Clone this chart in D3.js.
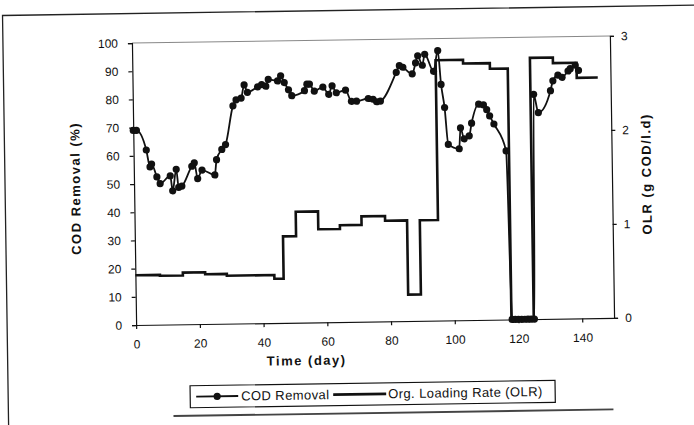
<!DOCTYPE html>
<html>
<head>
<meta charset="utf-8">
<script src="https://cdn.jsdelivr.net/npm/d3@7"></script>
<style>
  body { margin: 0; background: #fff; }
  svg { display: block; font-family: "Liberation Sans", Arial, sans-serif; }
  .axis text { font-size: 12px; fill: #111; }
  .axis path, .axis line { stroke: #111; stroke-width: 1.2; }
  .axis-title { font-size: 13px; font-weight: bold; fill: #111; letter-spacing: 1.5px; }
  .legend text { font-size: 13px; fill: #111; letter-spacing: 0.4px; }
</style>
</head>
<body>
<svg id="chart" width="694" height="425"></svg>
<script>
// values
const codDay = [0, 1, 4, 5.1, 5.6, 7.2, 8.2, 11.4, 12.1, 13.3, 14, 15, 18.2, 19, 20, 21.4, 25.4, 26, 27.7, 28.9,
  31.4, 32.4, 34, 35, 36, 39.2, 40.5, 41.8, 42.6, 45.5, 46.5, 47.6, 48.9, 49.9, 53.9, 54.7, 55.5, 57, 59.7,
  61.5, 62.6, 63.9, 66.8, 68.6, 70.2, 73.9, 75.4, 76.5, 77.7, 82.8, 83.8, 84.9, 87.8, 88.9, 89.6, 91, 91.8, 94.5,
  95.9, 96.8, 97.8, 98.8, 102.2, 102.7, 103.8, 105.4, 106.2, 108.5, 110, 111, 111.9, 113.2, 116.9,
  118, 119, 120, 121, 122, 123, 124, 125,
  125.8, 127.2, 131.1, 131.9, 133.5, 134.8, 136.7, 137.4, 139, 140];
const codRemoval = [69, 69, 62, 56, 57, 52.4, 50, 52.7, 47.4, 55, 48.6, 49, 56, 57.2, 51.6, 54.6, 52.8, 58.2, 61.8, 63.5,
  77.2, 79.3, 79.9, 84.6, 81.9, 83.8, 84.6, 84, 86.4, 85.8, 87.6, 85.2, 82.6, 80.5, 82.2, 84.5, 84.5, 82, 83.4,
  80.8, 83.8, 81.3, 82.2, 78.2, 78.2, 79.1, 78.8, 77.9, 78.1, 88.2, 90.6, 90, 87.6, 91.5, 94, 90.6, 94.5, 88.4,
  95.7, 83.7, 75.5, 62.4, 60.8, 68.2, 64.3, 65.3, 69.8, 76.5, 76.2, 74.5, 72.3, 69.4, 59.8,
  0, 0, 0, 0, 0, 0, 0, 0,
  79.7, 73.2, 80.9, 84.4, 86.4, 85.6, 87.8, 88.6, 89.8, 88];

// organic loading rate, stepwise (value holds until the next day listed)
const olrDay = [0, 7.7, 14.9, 21.9, 28.7, 43.6, 46.5, 50.6, 57.6, 64.4, 71.2, 78.6, 85.5, 89.5,
  95.2, 103.8, 112.2, 117.8, 124.8, 132, 139.4, 146];
const olrRate = [0.53, 0.52, 0.55, 0.53, 0.51, 0.47, 0.92, 1.18, 0.99, 1.03, 1.12, 1.07, 0.28, 1.07,
  2.77, 2.73, 2.67, 0, 2.78, 2.72, 2.56, 2.56];

const dayTicks = [0, 20, 40, 60, 80, 100, 120, 140];
const codTicks = [0, 10, 20, 30, 40, 50, 60, 70, 80, 90, 100];
const olrTicks = [0, 1, 2, 3];

const plotBox = { left: 134, right: 612, top: 39.5, bottom: 321.5 };

const scales = {
  x: d3.scaleLinear().domain([0, 150]).range([plotBox.left, plotBox.right]),
  y: d3.scaleLinear().domain([0, 100]).range([plotBox.bottom, plotBox.top]),
  y2: d3.scaleLinear().domain([0, 3]).range([plotBox.bottom, plotBox.top])
};

const svg = d3.select('#chart');

// the scan is tilted a little, so the whole page is drawn inside a rotated group
const page = svg.append('g')
  .attr('transform', 'rotate(-0.85, 373, 180)');

drawFrame();
drawAxis();
drawSeries();
drawTitles();
drawLegend();

function drawFrame() {
  page.append('path')
    .attr('d', 'M5,440 L5,10 L700,10')
    .attr('fill', 'none')
    .attr('stroke', '#222')
    .attr('stroke-width', 1.3);

  // thin border along the top of the plot area
  page.append('line')
    .attr('x1', plotBox.left).attr('x2', plotBox.right)
    .attr('y1', plotBox.top).attr('y2', plotBox.top)
    .attr('stroke', '#888')
    .attr('stroke-width', 1);

  // dark rule under the legend
  page.append('line')
    .attr('x1', 170).attr('x2', 610)
    .attr('y1', 413).attr('y2', 413)
    .attr('stroke', '#444')
    .attr('stroke-width', 1.8);
}

function drawAxis() {
  const xAxis = d3.axisBottom(scales.x)
    .tickValues(dayTicks)
    .tickSizeInner(4)
    .tickSizeOuter(0)
    .tickPadding(11);

  const yAxis = d3.axisLeft(scales.y)
    .tickValues(codTicks)
    .tickSizeInner(4)
    .tickSizeOuter(4)
    .tickPadding(10);

  const y2Axis = d3.axisRight(scales.y2)
    .tickValues(olrTicks)
    .tickFormat(d3.format('d'))
    .tickSizeInner(4)
    .tickSizeOuter(4)
    .tickPadding(7);

  page.append('g')
    .attr('class', 'axis')
    .attr('transform', translate(0, plotBox.bottom))
    .call(xAxis);

  page.append('g')
    .attr('class', 'axis')
    .attr('transform', translate(plotBox.left, 0))
    .call(yAxis);

  page.append('g')
    .attr('class', 'axis')
    .attr('transform', translate(plotBox.right, 0))
    .call(y2Axis);
}

function drawSeries() {
  const olr = olrDay.map((d, i) => ({ day: d, rate: olrRate[i] }));
  const cod = codDay.map((d, i) => ({ day: d, removal: codRemoval[i] }));

  const olrLine = d3.line()
    .x(d => scales.x(d.day))
    .y(d => scales.y2(d.rate))
    .curve(d3.curveStepAfter);

  page.append('path')
    .datum(olr)
    .attr('d', olrLine)
    .attr('fill', 'none')
    .attr('stroke', '#111')
    .attr('stroke-width', 2.6)
    .attr('stroke-linejoin', 'miter');

  const codLine = d3.line()
    .x(d => scales.x(d.day))
    .y(d => scales.y(d.removal))
    .curve(d3.curveMonotoneX);

  page.append('path')
    .datum(cod)
    .attr('d', codLine)
    .attr('fill', 'none')
    .attr('stroke', '#111')
    .attr('stroke-width', 1.8);

  page.append('g')
    .selectAll('circle')
    .data(cod)
    .enter()
    .append('circle')
    .attr('cx', d => scales.x(d.day))
    .attr('cy', d => scales.y(d.removal))
    .attr('r', 3.6)
    .attr('fill', '#111');
}

function drawTitles() {
  page.append('text')
    .attr('class', 'axis-title')
    .attr('x', 304)
    .attr('y', 364)
    .attr('text-anchor', 'middle')
    .text('Time (day)');

  const leftGroup = page.append('g')
    .attr('transform', translate(80, 184));
  leftGroup.append('text')
    .attr('class', 'axis-title')
    .attr('text-anchor', 'middle')
    .attr('transform', 'rotate(-90)')
    .text('COD Removal (%)');

  const rightGroup = page.append('g')
    .attr('transform', translate(651, 178));
  rightGroup.append('text')
    .attr('class', 'axis-title')
    .attr('text-anchor', 'middle')
    .attr('transform', 'rotate(-90)')
    .text('OLR (g COD/l.d)');
}

function drawLegend() {
  const group = page.append('g')
    .attr('class', 'legend')
    .attr('transform', translate(187, 383));

  group.append('rect')
    .attr('width', 365)
    .attr('height', 22)
    .attr('fill', '#fff')
    .attr('stroke', '#111')
    .attr('stroke-width', 1.2);

  group.append('line')
    .attr('x1', 6).attr('x2', 48)
    .attr('y1', 11).attr('y2', 11)
    .attr('stroke', '#111')
    .attr('stroke-width', 1.8);
  group.append('circle')
    .attr('cx', 27).attr('cy', 11).attr('r', 3.6)
    .attr('fill', '#111');
  group.append('text')
    .attr('x', 51).attr('y', 15.5)
    .text('COD Removal');

  group.append('line')
    .attr('x1', 143).attr('x2', 196)
    .attr('y1', 11).attr('y2', 11)
    .attr('stroke', '#111')
    .attr('stroke-width', 2.6);
  group.append('text')
    .attr('x', 198).attr('y', 15.5)
    .text('Org. Loading Rate (OLR)');
}

function translate(x, y) {
  return 'translate(' + String(x) + ',' + String(y) + ')';
}
</script>
</body>
</html>
